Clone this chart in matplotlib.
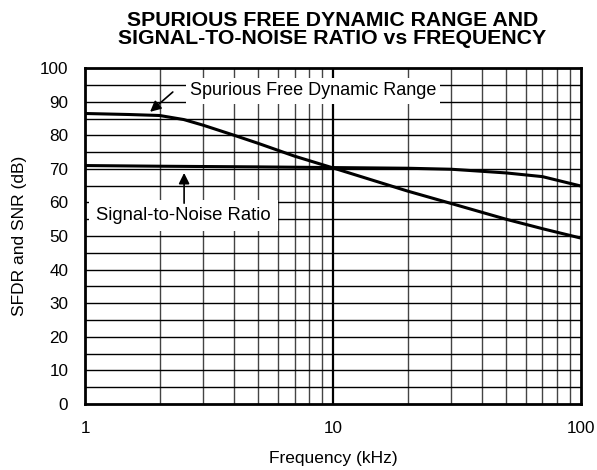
import matplotlib
matplotlib.use("Agg")
import matplotlib.pyplot as plt
from matplotlib.ticker import FixedLocator, NullFormatter
import numpy as np

plt.rcParams['font.family'] = ['Liberation Sans', 'DejaVu Sans']

freq_sfdr = [1, 1.5, 2, 2.5, 3, 4, 5, 7, 10, 20, 30, 50, 70, 100]
sfdr = [86.5, 86.2, 85.9, 84.7, 83.0, 80.0, 77.6, 73.8, 70.3, 63.4, 59.7, 55.0, 52.2, 49.4]

freq_snr = [1, 2, 5, 10, 20, 30, 50, 70, 100]
snr = [71.0, 70.8, 70.6, 70.4, 70.2, 69.9, 68.8, 67.7, 64.9]

x_tick_vals = [1, 10, 100]
x_tick_labels = ["1", "10", "100"]
y_tick_vals = list(range(0, 101, 10))

fig = plt.figure(figsize=(5.97, 4.70), dpi=100)
ax = fig.add_axes([0.1424, 0.1404, 0.8306, 0.7146])
ax.set_xscale('log')
ax.set_xlim(1, 100)
ax.set_ylim(0, 100)

# grid
for v in list(range(2, 10)) + list(range(20, 100, 10)):
    ax.axvline(v, color='#444444', lw=1.0, zorder=1)
ax.axvline(10, color='black', lw=1.6, zorder=1)
for h in range(5, 100, 5):
    ax.axhline(h, color='black', lw=1.0, zorder=1)

ax.plot(freq_sfdr, sfdr, color='black', lw=2.2, zorder=3, solid_capstyle='butt')
ax.plot(freq_snr, snr, color='black', lw=2.2, zorder=3, solid_capstyle='butt')

ax.xaxis.set_major_locator(FixedLocator(x_tick_vals))
ax.set_xticklabels(x_tick_labels)
ax.xaxis.set_minor_formatter(NullFormatter())
ax.set_yticks(y_tick_vals)
ax.tick_params(axis='both', which='both', length=0, labelsize=12.3)
ax.tick_params(axis='x', pad=12)
ax.tick_params(axis='y', pad=12)

for s in ax.spines.values():
    s.set_linewidth(2.0)
    s.set_zorder(5)

ax.set_xlabel("Frequency (kHz)", fontsize=12.5, labelpad=11)
ax.set_ylabel("SFDR and SNR (dB)", fontsize=12.5, labelpad=9)
fig.suptitle("SPURIOUS FREE DYNAMIC RANGE AND\nSIGNAL-TO-NOISE RATIO vs FREQUENCY",
             fontsize=15.3, fontweight='bold', y=0.977, x=0.557, linespacing=0.92)

ax.text(8.3, 93.2, "Spurious Free Dynamic Range", ha='center', va='center', fontsize=13,
        zorder=4, bbox=dict(facecolor='white', edgecolor='none', pad=3))
ax.text(2.5, 56.0, "Signal-to-Noise Ratio", ha='center', va='center', fontsize=13.3,
        zorder=4, bbox=dict(facecolor='white', edgecolor='none', pad=5))

ax.annotate("", xy=(1.83, 87.0), xytext=(2.26, 92.9),
            arrowprops=dict(arrowstyle='-|>', color='black', lw=1.2, mutation_scale=16,
                            shrinkA=0, shrinkB=0), zorder=6)
ax.annotate("", xy=(2.51, 68.8), xytext=(2.51, 59.8),
            arrowprops=dict(arrowstyle='-|>', color='black', lw=1.2, mutation_scale=16,
                            shrinkA=0, shrinkB=0), zorder=6)

fig.savefig("out.png", dpi=100)
